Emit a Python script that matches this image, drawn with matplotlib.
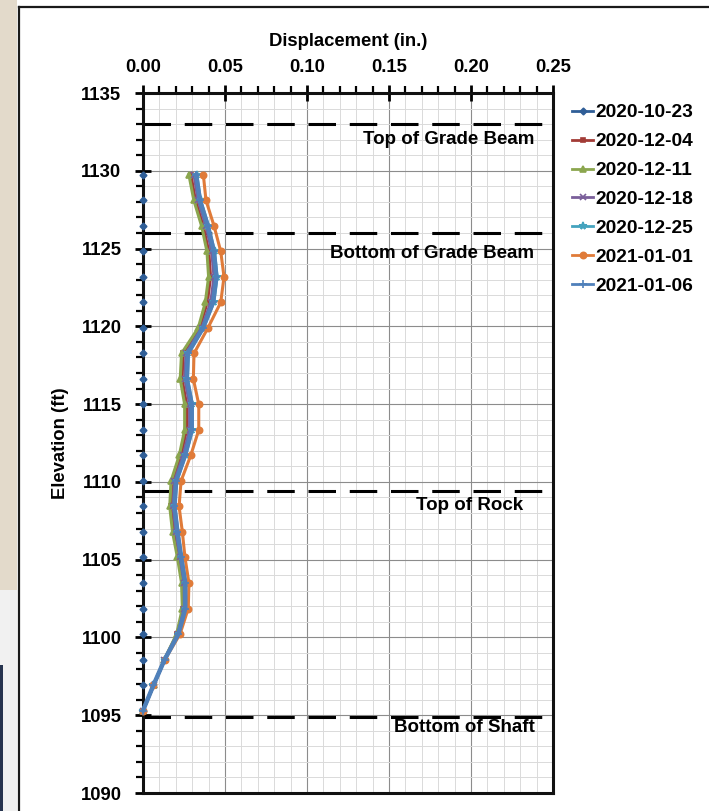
import matplotlib
matplotlib.use('Agg')
import matplotlib.pyplot as plt
from matplotlib.patches import Rectangle
from matplotlib.lines import Line2D
from matplotlib.ticker import MultipleLocator, FormatStrFormatter

plt.rcParams['font.family'] = ['Liberation Sans', 'DejaVu Sans']
plt.rcParams['font.weight'] = 'bold'

# inclinometer readings, bottom of shaft to top (0.5 m spacing)
elev = [1095.30, 1096.94, 1098.58, 1100.22, 1101.86, 1103.50, 1105.14, 1106.78,
        1108.42, 1110.06, 1111.70, 1113.34, 1114.98, 1116.62, 1118.26, 1119.90,
        1121.54, 1123.18, 1124.82, 1126.46, 1128.10, 1129.74]

dates = ['2020-10-23', '2020-12-04', '2020-12-11', '2020-12-18',
         '2020-12-25', '2021-01-01', '2021-01-06']

d_1023 = [0.0, 0.0, 0.0, 0.0, 0.0, 0.0, 0.0, 0.0, 0.0, 0.0, 0.0,
          0.0, 0.0, 0.0, 0.0, 0.0, 0.0, 0.0, 0.0, 0.0, 0.0, 0.0]
d_1204 = [0.000, 0.0066, 0.0132, 0.0208, 0.0246, 0.0242, 0.0217, 0.0189, 0.0171, 0.0180, 0.0231,
          0.0266, 0.0266, 0.0238, 0.0245, 0.0345, 0.0392, 0.0412, 0.0401, 0.0367, 0.0320, 0.0292]
d_1211 = [0.000, 0.0065, 0.0130, 0.0205, 0.0240, 0.0235, 0.0210, 0.0180, 0.0163, 0.0171, 0.0221,
          0.0254, 0.0254, 0.0227, 0.0235, 0.0337, 0.0380, 0.0400, 0.0390, 0.0357, 0.0310, 0.0280]
d_1218 = [0.000, 0.0065, 0.0131, 0.0212, 0.0252, 0.0251, 0.0226, 0.0201, 0.0183, 0.0192, 0.0245,
          0.0284, 0.0284, 0.0255, 0.0262, 0.0358, 0.0413, 0.0433, 0.0419, 0.0384, 0.0336, 0.0311]
d_1225 = [0.000, 0.0064, 0.0132, 0.0217, 0.0260, 0.0260, 0.0235, 0.0213, 0.0194, 0.0205, 0.0260,
          0.0301, 0.0301, 0.0271, 0.0277, 0.0369, 0.0432, 0.0452, 0.0436, 0.0399, 0.0351, 0.0328]
d_0101 = [0.000, 0.0063, 0.0134, 0.0226, 0.0276, 0.0280, 0.0256, 0.0240, 0.0220, 0.0232, 0.0291,
          0.0340, 0.0340, 0.0307, 0.0311, 0.0396, 0.0474, 0.0494, 0.0474, 0.0433, 0.0384, 0.0368]
d_0106 = [0.000, 0.0064, 0.0132, 0.0216, 0.0258, 0.0258, 0.0233, 0.0210, 0.0192, 0.0202, 0.0256,
          0.0297, 0.0297, 0.0267, 0.0273, 0.0366, 0.0427, 0.0447, 0.0432, 0.0395, 0.0347, 0.0324]

series = [d_1023, d_1204, d_1211, d_1218, d_1225, d_0101, d_0106]
colors = ['#2F5E97', '#A23B36', '#8BA64E', '#7A5F9A', '#44A3BE', '#E07B39', '#4F80BA']
markers = ['D', 's', '^', 'x', '*', 'o', '+']
msizes = [3.5, 3.5, 4.5, 4.5, 5.5, 4.5, 5.5]
widths = [2.0, 2.2, 2.2, 2.2, 2.2, 2.2, 3.2]

# reference elevations
ref_elev = [1133.0, 1126.0, 1109.4, 1094.9]
ref_labels = ['Top of Grade Beam', 'Bottom of Grade Beam', 'Top of Rock', 'Bottom of Shaft']
ref_text_y = [1132.0, 1124.7, 1108.5, 1094.2]
ref_text_x = [0.2385, 0.2387, 0.2318, 0.2390]

W, H = 709, 811
fig = plt.figure(figsize=(W / 100, H / 100), dpi=100)
fig.patch.set_facecolor('white')

# page background strip on the left
fig.add_artist(Rectangle((0, 1 - 590 / H), 17 / W, 590 / H, transform=fig.transFigure,
                         facecolor='#E3DACB', edgecolor='none'))
fig.add_artist(Rectangle((0, 0), 17 / W, 1 - 590 / H, transform=fig.transFigure,
                         facecolor='#F1F1F1', edgecolor='none'))
fig.add_artist(Rectangle((0, 0), 3 / W, 1 - 665 / H, transform=fig.transFigure,
                         facecolor='#27344F', edgecolor='none'))
# chart frame
fig.add_artist(Line2D([19 / W, 19 / W], [0, 1 - 7 / H], transform=fig.transFigure,
                      color='#1A1A1A', lw=1.6))
fig.add_artist(Line2D([19 / W, 1], [1 - 7 / H, 1 - 7 / H], transform=fig.transFigure,
                      color='#1A1A1A', lw=1.6))

ax = fig.add_axes([143 / W, 1 - 793 / H, 410 / W, 700 / H])
ax.set_xlim(0, 0.25)
ax.set_ylim(1090, 1135)

ax.xaxis.set_major_locator(MultipleLocator(0.05))
ax.xaxis.set_minor_locator(MultipleLocator(0.01))
ax.yaxis.set_major_locator(MultipleLocator(5))
ax.yaxis.set_minor_locator(MultipleLocator(1))
ax.xaxis.set_major_formatter(FormatStrFormatter('%.2f'))

ax.grid(which='minor', color='#DADADA', lw=0.7, zorder=0)
ax.grid(which='major', color='#8C8C8C', lw=0.8, zorder=0)
ax.set_axisbelow(True)

ax.xaxis.tick_top()
ax.xaxis.set_label_position('top')
ax.tick_params(which='major', direction='inout', length=11, width=2.0, labelsize=13.3, pad=7)
ax.tick_params(which='minor', direction='out', length=5, width=1.6)
ax.tick_params(axis='y', which='major', pad=10)
for s in ax.spines.values():
    s.set_linewidth(2.2)
    s.set_color('#111111')
    s.set_zorder(3)

ax.set_xlabel('Displacement (in.)', fontsize=13.3, fontweight='bold', labelpad=9)
ax.set_ylabel('Elevation (ft)', fontsize=13.3, fontweight='bold', labelpad=8)

for y in ref_elev:
    ax.axhline(y, color='black', lw=2.2, dashes=(9, 4.5), zorder=2)
for x, y, t in zip(ref_text_x, ref_text_y, ref_labels):
    ax.text(x, y, t, ha='right', va='center', fontsize=13.5, fontweight='bold', zorder=3)

for i, (vals, lab, c, m, ms, lw) in enumerate(zip(series, dates, colors, markers, msizes, widths)):
    if i == 0:
        # baseline reading sits on the axis: line under the spine, markers over it
        ax.plot(vals, elev, color=c, lw=lw, zorder=2.6, clip_on=False)
        ax.plot(vals, elev, ls='none', color=c, marker=m, ms=ms, zorder=4, clip_on=False)
        ax.plot([], [], color=c, lw=lw, marker=m, ms=ms, label=lab)
    else:
        ax.plot(vals, elev, color=c, lw=lw, marker=m, ms=ms, mew=1.2,
                label=lab, zorder=4, clip_on=False)

handles, labels = ax.get_legend_handles_labels()
leg = fig.legend(handles, labels, loc='upper left', bbox_to_anchor=(572 / W, 1 - 104 / H),
                 frameon=False, fontsize=13.8, handlelength=1.1, handletextpad=0.1,
                 labelspacing=0.6, borderpad=0, borderaxespad=0)
for h in leg.legend_handles:
    h.set_linewidth(2.0)
for t in leg.get_texts():
    t.set_fontweight('bold')

fig.savefig('out.png', dpi=100)
